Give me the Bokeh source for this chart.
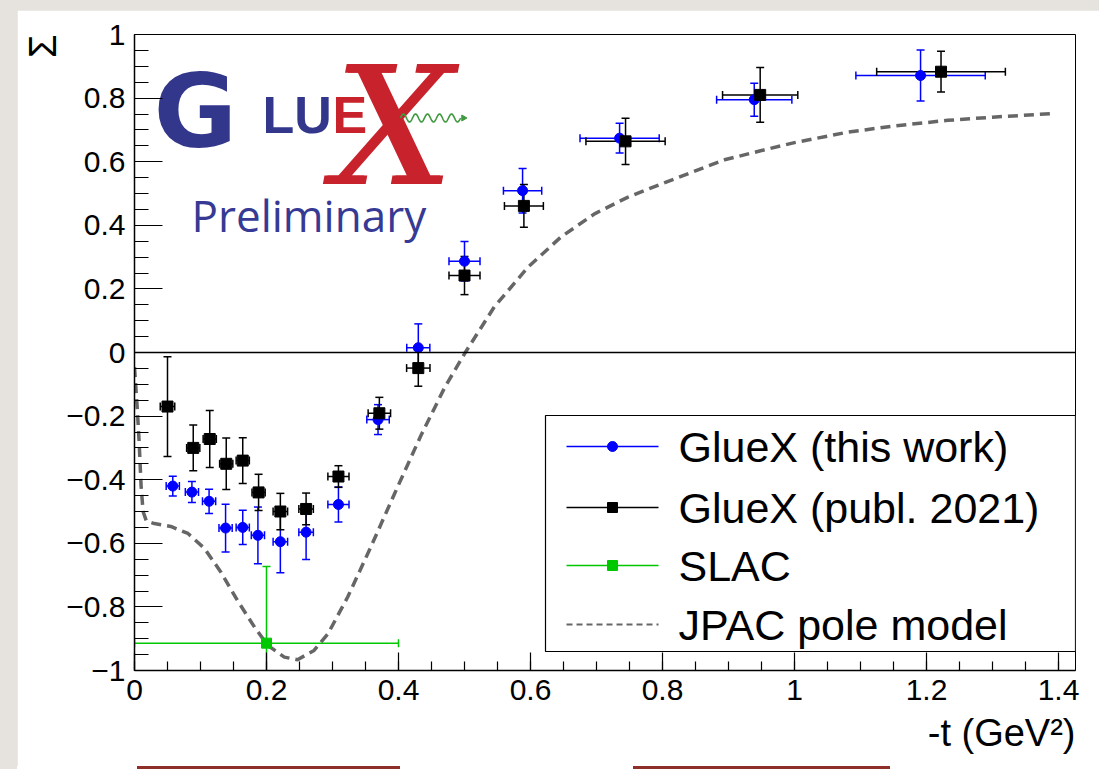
import numpy as np
from bokeh.plotting import figure
from bokeh.models import (Range1d, FixedTicker, Span, Whisker, TeeHead,
                          ColumnDataSource, Label, Title, Div)
from bokeh.core.properties import value
from bokeh.layouts import column
from bokeh.embed import file_html
from bokeh.resources import INLINE

# ---------------- data ----------------
# GlueX (this work)
t_new = [0.058, 0.087, 0.113, 0.138, 0.164, 0.187, 0.221, 0.260, 0.309, 0.369,
         0.430, 0.500, 0.588, 0.735, 0.939, 1.191]
s_new = [-0.420, -0.439, -0.468, -0.552, -0.550, -0.575, -0.595, -0.565, -0.478, -0.211,
         0.015, 0.287, 0.509, 0.674, 0.795, 0.871]
ds_new = [0.031, 0.033, 0.038, 0.075, 0.054, 0.089, 0.098, 0.086, 0.055, 0.047,
          0.075, 0.062, 0.070, 0.047, 0.052, 0.080]
dt_new = [0.010, 0.010, 0.010, 0.010, 0.010, 0.010, 0.011, 0.011, 0.016, 0.017,
          0.0175, 0.0235, 0.029, 0.060, 0.057, 0.098]

# GlueX (publ. 2021)
t_old = [0.050, 0.089, 0.114, 0.139, 0.164, 0.188, 0.221, 0.260, 0.309, 0.371,
         0.430, 0.500, 0.590, 0.744, 0.948, 1.222]
s_old = [-0.170, -0.300, -0.272, -0.350, -0.340, -0.440, -0.500, -0.492, -0.390, -0.191,
         -0.049, 0.242, 0.461, 0.664, 0.810, 0.883]
ds_old = [0.157, 0.072, 0.090, 0.081, 0.072, 0.057, 0.057, 0.050, 0.034, 0.050,
          0.057, 0.060, 0.067, 0.073, 0.086, 0.064]
dt_old = [0.011, 0.010, 0.010, 0.010, 0.010, 0.010, 0.011, 0.011, 0.016, 0.017,
          0.0177, 0.0235, 0.0295, 0.060, 0.057, 0.0975]

# SLAC
t_slac = [0.20]
s_slac = [-0.914]
ds_slac = [0.241]
dt_slac = [0.20]

# JPAC pole model
jpac_t = [0.000, 0.004, 0.007, 0.010, 0.013, 0.018, 0.030, 0.055, 0.081, 0.106,
          0.131, 0.156, 0.182, 0.202, 0.227, 0.247, 0.272, 0.293, 0.323, 0.358,
          0.394, 0.434, 0.470, 0.500, 0.545, 0.596, 0.646, 0.697, 0.747, 0.798,
          0.894, 0.950, 1.000, 1.081, 1.150, 1.232, 1.300, 1.389]
jpac_s = [-0.046, -0.170, -0.280, -0.420, -0.500, -0.530, -0.538, -0.547, -0.569, -0.616,
          -0.691, -0.780, -0.864, -0.921, -0.958, -0.966, -0.937, -0.885, -0.769, -0.612,
          -0.444, -0.261, -0.110, -0.004, 0.143, 0.268, 0.363, 0.436, 0.488, 0.530,
          0.606, 0.635, 0.660, 0.693, 0.712, 0.730, 0.740, 0.751]

x_major = [0.0, 0.2, 0.4, 0.6, 0.8, 1.0, 1.2, 1.4]
x_labels = ["0", "0.2", "0.4", "0.6", "0.8", "1", "1.2", "1.4"]
y_major = [-1.0, -0.8, -0.6, -0.4, -0.2, 0.0, 0.2, 0.4, 0.6, 0.8, 1.0]
y_labels = ["\u22121", "\u22120.8", "\u22120.6", "\u22120.4", "\u22120.2", "0",
            "0.2", "0.4", "0.6", "0.8", "1"]

legend_names = ["GlueX (this work)", "GlueX (publ. 2021)", "SLAC", "JPAC pole model"]

# ---------------- layout constants ----------------
CARD_LEFT, CARD_TOP = 17, 10
STRIP_H = 3                                  # underline strip below the plot
W, H = 1099 - CARD_LEFT, 769 - CARD_TOP - STRIP_H
FRAME_L, FRAME_R, FRAME_T, FRAME_B = 134, 1075, 34, 670   # page pixels
XMIN, YMIN, YMAX = 0.0, -1.0, 1.0
PX_PER_Y = (FRAME_B - FRAME_T) / (YMAX - YMIN)
PX_PER_X = PX_PER_Y * 660 / 318
XMAX = XMIN + (FRAME_R - FRAME_L) / PX_PER_X

def dx(px):
    return XMIN + (px - FRAME_L) / PX_PER_X

def dy(py):
    return YMAX - (py - FRAME_T) / PX_PER_Y

BLUE = "#0000ff"
GREEN = "#00c800"
CURVE = "#666666"
FONT = "Liberation Sans"

p = figure(width=W, height=H, output_backend="svg", toolbar_location=None,
           x_range=Range1d(XMIN, XMAX), y_range=Range1d(YMIN, YMAX),
           min_border_left=FRAME_L - CARD_LEFT, min_border_right=1099 - FRAME_R,
           min_border_top=FRAME_T - CARD_TOP,
           min_border_bottom=769 - STRIP_H - FRAME_B,
           background_fill_color="white", border_fill_color="white")
p.margin = (CARD_TOP, 0, 0, CARD_LEFT)
p.outline_line_color = "black"
p.outline_line_width = 1
p.xgrid.visible = False
p.ygrid.visible = False

# axes
xa = p.xaxis[0]
xa.ticker = FixedTicker(ticks=x_major,
                        minor_ticks=[round(0.05 * i, 2) for i in range(0, 29)])
xa.major_label_overrides = dict(zip(x_major, x_labels))
xa.major_tick_in, xa.major_tick_out = 18, 0
xa.minor_tick_in, xa.minor_tick_out = 9, 0
ya = p.yaxis[0]
ya.ticker = FixedTicker(ticks=y_major,
                        minor_ticks=[round(-1 + 0.05 * i, 2) for i in range(0, 41)])
ya.major_label_overrides = dict(zip(y_major, y_labels))
ya.major_tick_in, ya.major_tick_out = 28, 0
ya.minor_tick_in, ya.minor_tick_out = 14, 0
for ax in (xa, ya):
    ax.axis_line_width = 1.5
    ax.major_tick_line_width = 1.2
    ax.minor_tick_line_width = 1.2
    ax.major_label_text_font = FONT
    ax.major_label_text_font_size = "30px"
    ax.major_label_text_color = "black"
xa.major_label_standoff = 9
ya.major_label_standoff = 9

# axis titles, pushed to the far ends of their axes
p.add_layout(Title(text="-t (GeV\u00b2)", align="right", text_font=FONT,
                   text_font_size="38px", text_font_style="normal",
                   text_color="black", standoff=15), "below")
p.add_layout(Title(text="\u03a3", align="right", text_font=FONT,
                   text_font_size="38px", text_font_style="normal",
                   text_color="black", standoff=0), "left")

p.add_layout(Span(location=0, dimension="width", line_color="black", line_width=1.3))

# JPAC curve
p.line(jpac_t, jpac_s, line_color=CURVE, line_width=3.5, line_dash="10 6")


def error_bars(t, s, dt, ds, color, clip_low=False, cap=8):
    lo = [max(a - b, YMIN) for a, b in zip(s, ds)]
    hi = [a + b for a, b in zip(s, ds)]
    src = ColumnDataSource(dict(t=t, s=s, lo=lo, hi=hi,
                                tlo=[a - b for a, b in zip(t, dt)],
                                thi=[a + b for a, b in zip(t, dt)]))
    low_head = None if clip_low else TeeHead(size=cap, line_color=color, line_width=1.5)
    p.add_layout(Whisker(source=src, base="t", lower="lo", upper="hi", dimension="height",
                         line_color=color, line_width=1.5, level="underlay",
                         lower_head=low_head,
                         upper_head=TeeHead(size=cap, line_color=color, line_width=1.5)))
    p.add_layout(Whisker(source=src, base="s", lower="tlo", upper="thi", dimension="width",
                         line_color=color, line_width=1.5, level="underlay",
                         lower_head=TeeHead(size=cap, line_color=color, line_width=1.5),
                         upper_head=TeeHead(size=cap, line_color=color, line_width=1.5)))
    return src


src_slac = error_bars(t_slac, s_slac, dt_slac, ds_slac, GREEN, clip_low=True)
p.scatter("t", "s", source=src_slac, marker="square", size=10, color=GREEN)
src_new = error_bars(t_new, s_new, dt_new, ds_new, BLUE)
p.scatter("t", "s", source=src_new, marker="circle", size=10, color=BLUE)
src_old = error_bars(t_old, s_old, dt_old, ds_old, "black")
p.scatter("t", "s", source=src_old, marker="square", size=11, color="black")

# ---------------- GlueX logo (text glyphs; anchors at text-box bottom) ----------------
# (font sizes avoid round hundreds such as "100px": the SVG font parser reads
#  those digits as a font weight)
LOGO_BLUE = "#32378c"
LOGO_RED = "#c8232c"
p.text(x=[dx(333), dx(336)], y=[dy(222)] * 2, text=["X"] * 2,
       text_font=value("DejaVu Serif"), text_font_style="italic",
       text_font_size="165px", text_color=LOGO_RED, text_baseline="bottom")
p.text(x=[dx(153)], y=[dy(170)], text=["G"], text_font=value("DejaVu Sans"),
       text_font_style="bold", text_font_size="102px", text_color=LOGO_BLUE,
       text_baseline="bottom")
p.text(x=[dx(262)], y=[dy(143)], text=["LU"], text_font=value(FONT),
       text_font_style="bold", text_font_size="52px", text_color=LOGO_BLUE,
       text_baseline="bottom")
p.text(x=[dx(332)], y=[dy(143)], text=["E"], text_font=value(FONT),
       text_font_style="bold", text_font_size="52px", text_color=LOGO_RED,
       text_baseline="bottom")
wave_px = np.linspace(400, 460, 160)
wave_py = 117.5 - 4.0 * np.sin((wave_px - 400) / 60 * 5 * 2 * np.pi)
p.line([dx(v) for v in wave_px], [dy(v) for v in wave_py], line_color="#3f9a3f",
       line_width=1.6)
p.scatter([dx(463)], [dy(117.5)], marker="triangle", angle=-np.pi / 2, size=6,
          color="#3f9a3f")
p.text(x=[dx(191)], y=[dy(244)], text=["Preliminary"], text_font=value("Open Sans"),
       text_font_size="44px", text_color="#363a94", text_baseline="bottom")

# ---------------- legend ----------------
LEG_L, LEG_T, LEG_B = 545, 415, 651
p.quad(left=dx(LEG_L), right=XMAX, top=dy(LEG_T), bottom=dy(LEG_B),
       fill_color="white", line_color="black", line_width=1.2)
row_y = [446, 507, 565, 624]
key_l, key_r, key_c, text_x = 566, 658, 612, 678
key_src = ColumnDataSource(dict(
    y=[dy(v) for v in row_y[:3]],
    x0=[dx(key_l)] * 3, x1=[dx(key_r)] * 3, xc=[dx(key_c)] * 3,
    color=[BLUE, "black", GREEN], marker=["circle", "square", "square"]))
p.segment("x0", "y", "x1", "y", source=key_src, line_color="color", line_width=1.5)
for i, c in enumerate([BLUE, "black", GREEN]):
    p.add_layout(Whisker(base=dx(key_c), lower=dy(row_y[i] + 17), upper=dy(row_y[i] - 17),
                         dimension="height", line_color=c, line_width=1.5,
                         lower_head=TeeHead(size=16, line_color=c, line_width=1.5),
                         upper_head=TeeHead(size=16, line_color=c, line_width=1.5)))
p.scatter("xc", "y", source=key_src, marker="marker", size=10, color="color")
p.line([dx(key_l), dx(key_r)], [dy(row_y[3])] * 2, line_color=CURVE, line_width=2.2,
       line_dash="6 4")
for name, ry in zip(legend_names, row_y):
    p.add_layout(Label(x=dx(text_x), y=dy(ry), text=name, text_font=FONT,
                       text_font_size="43px", text_baseline="middle", text_color="black"))

# ---------------- slide underline strokes ----------------
strokes = [(137, 400), (633, 890)]
stops = ["white 0px"]
for a, b in strokes:
    a0, b0 = a - CARD_LEFT, b - CARD_LEFT
    stops += [f"white {a0}px", f"#8e2f2a {a0}px", f"#8e2f2a {b0}px", f"white {b0}px"]
stops.append("white 100%")
strip = Div(text="", width=W, height=STRIP_H, margin=(0, 0, 0, CARD_LEFT),
            styles={"background": f"linear-gradient(90deg, {', '.join(stops)})"})

page = column(p, strip, spacing=0, styles={"background-color": "#e6e3df"})
open("out.html", "w").write(file_html(page, INLINE))
